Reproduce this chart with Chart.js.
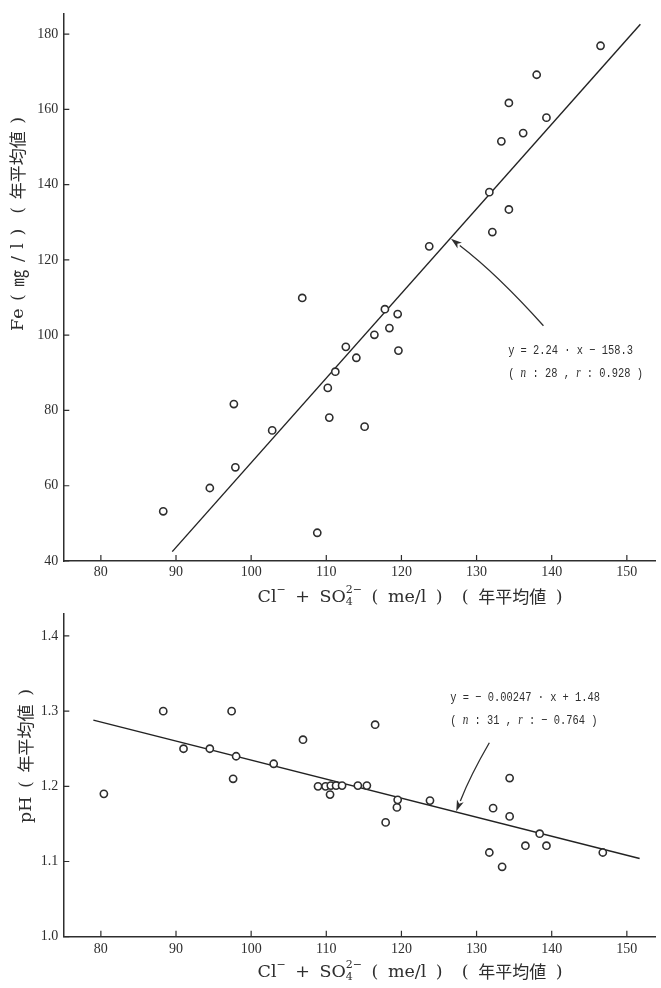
<!DOCTYPE html>
<html>
<head>
<meta charset="utf-8">
<script src="https://cdn.jsdelivr.net/npm/chart.js@4.4.1/dist/chart.umd.min.js"></script>
<style>
  html, body { margin: 0; padding: 0; background: #fff; }
  #wrap { position: relative; width: 661px; height: 988px; }
  canvas { position: absolute; left: 0; }
</style>
</head>
<body>
<div id="wrap">
  <canvas id="feChart" width="661" height="612" style="top:0"></canvas>
  <canvas id="phChart" width="661" height="388" style="top:600px"></canvas>
</div>
<script>
// --- data ---
const xTicks = [80, 90, 100, 110, 120, 130, 140, 150];

const feTicks = [40, 60, 80, 100, 120, 140, 160, 180];
const feX = [88.3, 94.5, 97.7, 97.9, 102.8, 106.8, 108.8, 110.2, 110.4, 111.2, 112.6, 114.0, 115.1, 116.4,
  117.8, 118.4, 119.5, 119.6, 123.7, 131.7, 132.1, 133.3, 134.3, 134.3, 136.2, 138.0, 139.3, 146.5];
const feY = [53.2, 59.4, 81.7, 64.9, 74.7, 109.9, 47.5, 86.0, 78.1, 90.3, 96.9, 94.0, 75.7, 100.1,
  106.9, 101.9, 105.6, 95.9, 123.6, 138.0, 127.4, 151.5, 161.7, 133.4, 153.7, 169.2, 157.8, 176.9];
const feLineX = [89.5, 151.8];
const feLineY = [42.5, 182.6];
const feArrowX = [138.9, 132.7, 126.6];
const feArrowY = [102.5, 116.3, 125.6];
const feNoteX = 134.2;
const feNoteY = [95.9, 89.8];

const phTicks = [1.0, 1.1, 1.2, 1.3, 1.4];
const phX = [80.4, 88.3, 91.0, 94.5, 97.4, 97.6, 98.0, 103.0, 106.9, 108.9, 109.9, 110.5, 110.6, 111.3,
  112.1, 114.2, 115.4, 116.5, 117.9, 119.4, 119.5, 123.8, 131.7, 132.2, 133.4, 134.4, 134.4, 136.5,
  138.4, 139.3, 146.8];
const phY = [1.190, 1.300, 1.250, 1.250, 1.300, 1.210, 1.240, 1.230, 1.262, 1.200, 1.200, 1.189, 1.201, 1.201,
  1.201, 1.201, 1.201, 1.282, 1.152, 1.172, 1.182, 1.181, 1.112, 1.171, 1.093, 1.211, 1.160, 1.121,
  1.137, 1.121, 1.112];
const phLineX = [79.0, 151.7];
const phLineY = [1.288, 1.104];
const phArrowX = [131.7, 129.2, 127.3];
const phArrowY = [1.258, 1.215, 1.167];
const phNoteX = 126.5;
const phNoteY = [1.318, 1.2876];

const INK = '#2e2e2e';
const SERIF = "'Liberation Serif', 'DejaVu Serif', serif";
const WIDE = "'DejaVu Serif', 'Liberation Serif', serif";
const CJK = "'Noto Sans CJK JP', sans-serif";
const MONO = "'Liberation Mono', 'DejaVu Sans Mono', monospace";

const pairs = (xs, ys) => xs.map((x, i) => ({ x: x, y: ys[i] }));

function partFont(k) {
  if (k === 'cjk') return '17px ' + CJK;
  if (k === 'sup' || k === 'sub') return '11px ' + WIDE;
  if (k === 'mono') return '13px ' + MONO;
  if (k === 'ital') return 'italic 14px ' + SERIF;
  return '17.5px ' + WIDE;
}

// lay a rich title over a given width (extra room goes into the spaces), centred at (cx, cy)
function drawTitle(ctx, parts, cx, cy, width, angle) {
  const units = [];
  parts.forEach(p => {
    if (p.k === 'stack') {
      ctx.font = partFont('sup');
      const w = Math.max(ctx.measureText(p.t[0]).width, ctx.measureText(p.t[1]).width);
      units.push({ p: p, w: w });
    } else {
      ctx.font = partFont(p.k);
      for (const ch of p.t) units.push({ p: { t: ch, k: p.k }, w: ctx.measureText(ch).width });
    }
  });
  const natural = units.reduce((s, u) => s + u.w, 0);
  const spaces = units.filter(u => u.p.t === ' ').length;
  const extra = spaces ? (width - natural) / spaces : 0;
  ctx.save();
  ctx.translate(cx, cy);
  ctx.rotate(angle);
  ctx.fillStyle = INK;
  ctx.textBaseline = 'middle';
  ctx.textAlign = 'left';
  let x = -width / 2;
  units.forEach(u => {
    const p = u.p;
    if (p.k === 'stack') {
      ctx.font = partFont('sup');
      ctx.fillText(p.t[0], x, -7);
      ctx.fillText(p.t[1], x, 5);
    } else {
      ctx.font = partFont(p.k);
      ctx.fillText(p.t, x, p.k === 'sup' ? -7 : 0);
    }
    x += u.w + (p.t === ' ' ? extra : 0);
  });
  ctx.restore();
}

function drawRuns(ctx, runs, x, y) {
  ctx.save();
  ctx.translate(x, y);
  ctx.scale(0.8, 1);
  ctx.fillStyle = INK;
  ctx.textBaseline = 'middle';
  ctx.textAlign = 'left';
  let cx = 0;
  runs.forEach(r => {
    ctx.font = partFont(r[1]);
    ctx.fillText(r[0], cx, 0);
    cx += ctx.measureText(r[0]).width;
  });
  ctx.restore();
}

const decor = {
  id: 'decor',
  afterDraw(chart, args, o) {
    const ctx = chart.ctx, xs = chart.scales.x, ys = chart.scales.y, a = chart.chartArea;
    ctx.save();
    ctx.strokeStyle = INK;
    ctx.fillStyle = INK;
    ctx.lineWidth = 1.2;
    // inward tick marks
    ctx.beginPath();
    xs.ticks.forEach(t => {
      const px = xs.getPixelForValue(t.value);
      ctx.moveTo(px, a.bottom); ctx.lineTo(px, a.bottom - 6);
    });
    ys.ticks.forEach(t => {
      const py = ys.getPixelForValue(t.value);
      ctx.moveTo(a.left, py); ctx.lineTo(a.left + 6, py);
    });
    ctx.stroke();

    // arrow to the regression line
    const p = o.arrowX.map((v, i) => ({ x: xs.getPixelForValue(v), y: ys.getPixelForValue(o.arrowY[i]) }));
    const ang = Math.atan2(p[2].y - p[1].y, p[2].x - p[1].x);
    const hl = 11, hw = 3.6;
    const bx = p[2].x - hl * Math.cos(ang), by = p[2].y - hl * Math.sin(ang);
    ctx.lineWidth = 1.3;
    ctx.beginPath();
    ctx.moveTo(p[0].x, p[0].y);
    ctx.quadraticCurveTo(p[1].x, p[1].y, bx, by);
    ctx.stroke();
    ctx.beginPath();
    ctx.moveTo(p[2].x, p[2].y);
    ctx.lineTo(bx + hw * Math.sin(ang), by - hw * Math.cos(ang));
    ctx.lineTo(bx + 3 * Math.cos(ang), by + 3 * Math.sin(ang));
    ctx.lineTo(bx - hw * Math.sin(ang), by + hw * Math.cos(ang));
    ctx.closePath();
    ctx.fill();
    ctx.restore();

    // regression note
    const nx = xs.getPixelForValue(o.noteX);
    drawRuns(ctx, o.note[0], nx, ys.getPixelForValue(o.noteY[0]));
    drawRuns(ctx, o.note[1], nx, ys.getPixelForValue(o.noteY[1]));

    // axis titles
    const xt = o.xTitle, yt = o.yTitle;
    drawTitle(ctx, xt.parts, xt.cx, xt.cy, xt.w, 0);
    drawTitle(ctx, yt.parts, yt.cx, yt.cy, yt.w, -Math.PI / 2);
  }
};

const xTitleParts = [
  { t: 'Cl', k: 'r' }, { t: '−', k: 'sup' }, { t: ' + SO', k: 'r' }, { t: ['2−', '4'], k: 'stack' },
  { t: ' ( me/l )  ( ', k: 'r' }, { t: '年平均値', k: 'cjk' }, { t: ' )', k: 'r' }
];

function makeChart(id, cfg) {
  const tickFont = { family: SERIF, size: 14 };
  return new Chart(document.getElementById(id), {
    type: 'scatter',
    data: {
      datasets: [
        {
          data: pairs(cfg.x, cfg.y),
          pointStyle: 'circle',
          pointRadius: 3.6,
          pointBorderWidth: 1.6,
          borderColor: INK,
          backgroundColor: '#fff',
          order: 1
        },
        {
          type: 'line',
          data: pairs(cfg.lineX, cfg.lineY),
          borderColor: '#222',
          borderWidth: 1.4,
          pointRadius: 0,
          fill: false,
          order: 2
        }
      ]
    },
    options: {
      responsive: false,
      animation: false,
      events: [],
      layout: { padding: { top: cfg.padTop, right: 0, left: 0, bottom: 0 } },
      plugins: {
        legend: { display: false },
        tooltip: { enabled: false },
        decor: cfg.decor
      },
      scales: {
        x: {
          type: 'linear',
          min: 75, max: 153.8,
          afterFit: s => { s.height = cfg.xHeight; },
          afterBuildTicks: s => { s.ticks = xTicks.map(v => ({ value: v })); },
          grid: { display: false, drawTicks: false, tickLength: 0 },
          border: { display: true, color: INK, width: 1.5 },
          ticks: { font: tickFont, color: INK, padding: cfg.xPad, maxRotation: 0 }
        },
        y: {
          type: 'linear',
          min: cfg.yMin, max: cfg.yMax,
          afterFit: s => { s.width = 63.3; },
          afterBuildTicks: s => { s.ticks = cfg.yTicks.map(v => ({ value: v })); },
          grid: { display: false, drawTicks: false, tickLength: 0 },
          border: { display: true, color: INK, width: 1.5 },
          ticks: { font: tickFont, color: INK, padding: 5, callback: cfg.yFmt }
        }
      }
    },
    plugins: [decor]
  });
}

makeChart('feChart', {
  x: feX, y: feY, lineX: feLineX, lineY: feLineY,
  yMin: 40, yMax: 185.5, yTicks: feTicks, yFmt: v => String(v),
  padTop: 10, xHeight: 51, xPad: 3,
  decor: {
    arrowX: feArrowX, arrowY: feArrowY, noteX: feNoteX, noteY: feNoteY,
    note: [
      [['y = 2.24 · x − 158.3', 'mono']],
      [['( ', 'mono'], ['n', 'ital'], [' : 28 , ', 'mono'], ['r', 'ital'], [' : 0.928 )', 'mono']]
    ],
    xTitle: { parts: xTitleParts, cx: 410, cy: 597, w: 305 },
    yTitle: {
      parts: [{ t: 'Fe ( ', k: 'r' }, { t: '㎎', k: 'cjk' }, { t: ' / l )  ( ', k: 'r' },
        { t: '年平均値', k: 'cjk' }, { t: ' )', k: 'r' }],
      cx: 18, cy: 224, w: 214
    }
  }
});

makeChart('phChart', {
  x: phX, y: phY, lineX: phLineX, lineY: phLineY,
  yMin: 1.0, yMax: 1.43, yTicks: phTicks, yFmt: v => v.toFixed(1),
  padTop: 13.3, xHeight: 51.3, xPad: 4,
  decor: {
    arrowX: phArrowX, arrowY: phArrowY, noteX: phNoteX, noteY: phNoteY,
    note: [
      [['y = − 0.00247 · x + 1.48', 'mono']],
      [['( ', 'mono'], ['n', 'ital'], [' : 31 , ', 'mono'], ['r', 'ital'], [' : − 0.764 )', 'mono']]
    ],
    xTitle: { parts: xTitleParts, cx: 410, cy: 372, w: 305 },
    yTitle: {
      parts: [{ t: 'pH ( ', k: 'r' }, { t: '年平均値', k: 'cjk' }, { t: ' )', k: 'r' }],
      cx: 26, cy: 156, w: 134
    }
  }
});
</script>
</body>
</html>
